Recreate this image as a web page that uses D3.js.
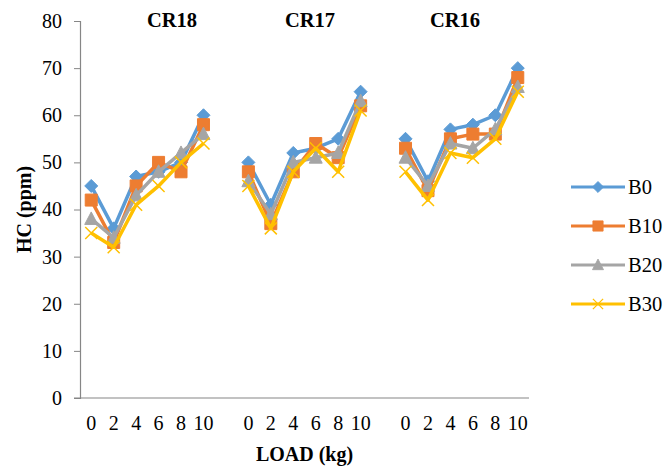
<!DOCTYPE html>
<html>
<head>
<meta charset="utf-8">
<script src="https://cdn.jsdelivr.net/npm/d3@7"></script>
<style>
  body { margin: 0; background: #fff; }
  text { font-family: "Liberation Serif", "Times New Roman", serif; }
</style>
</head>
<body>
<div id="app"></div>
<script>
// data
const groups = ['CR18', 'CR17', 'CR16'];
const loads = ['0', '2', '4', '6', '8', '10'];
const seriesNames = ['B0', 'B10', 'B20', 'B30'];
const B0 = [[45, 36, 47, 48, 50, 60], [50, 41, 52, 53, 55, 65], [55, 46, 57, 58, 60, 70]];
const B10 = [[42, 33, 45, 50, 48, 58], [48, 37, 48, 54, 51, 62], [53, 44, 55, 56, 56, 68]];
const B20 = [[38, 34, 43, 48, 52, 56], [46, 39, 50, 51, 52, 63], [51, 45, 54, 53, 57, 66]];
const B30 = [[35, 32, 41, 45, 50, 54], [45, 36, 48, 53, 48, 61], [48, 42, 52, 51, 55, 65]];
const yTicks = [0, 10, 20, 30, 40, 50, 60, 70, 80];

const seriesData = [B0, B10, B20, B30];
const colors = ['#5B9BD5', '#ED7D31', '#A5A5A5', '#FFC000'];
const shapes = ['diamond', 'square', 'triangle', 'x'];

// categories: 6 loads per group with a blank slot between groups
const cats = [];
groups.forEach((g, gi) => {
  loads.forEach(l => cats.push(`${g}|${l}`));
  if (gi < groups.length - 1) cats.push(`gap${gi}`);
});

const width = 665, height = 468;
const plot = { left: 80, right: 529, top: 21, bottom: 398 };

const svg = d3.select('#app').append('svg')
  .attr('width', width)
  .attr('height', height);

const x = d3.scaleBand().domain(cats).range([plot.left, plot.right]);
const y = d3.scaleLinear().domain([0, 80]).range([plot.bottom, plot.top]);
const cx = (c) => x(c) + x.bandwidth() / 2;

// y axis
const yAxis = svg.append('g')
  .attr('transform', `translate(${plot.left},0)`)
  .call(d3.axisLeft(y).tickValues(yTicks).tickSize(6).tickPadding(12));
yAxis.select('.domain').attr('stroke', '#868686').attr('stroke-width', 1.2);
yAxis.selectAll('.tick line').attr('stroke', '#868686');
yAxis.selectAll('.tick text').attr('font-size', 20).attr('fill', '#000')
  .attr('font-family', '"Liberation Serif", serif');

// x axis line
svg.append('line')
  .attr('x1', plot.left - 6).attr('x2', plot.right)
  .attr('y1', plot.bottom).attr('y2', plot.bottom)
  .attr('stroke', '#868686').attr('stroke-width', 1.2);

// x tick labels
svg.append('g').selectAll('text')
  .data(cats.filter(c => !c.startsWith('gap')))
  .join('text')
  .attr('x', d => cx(d))
  .attr('y', 430)
  .attr('text-anchor', 'middle')
  .attr('font-size', 20)
  .text(d => d.split('|')[1]);

// group titles (text boxes placed over each group)
const titleOffset = [92, 230, 375];
svg.append('g').selectAll('text')
  .data(groups)
  .join('text')
  .attr('x', (g, i) => plot.left + titleOffset[i])
  .attr('y', 27)
  .attr('text-anchor', 'middle')
  .attr('font-size', 20.5)
  .attr('font-weight', 'bold')
  .text(g => g);

// axis titles
svg.append('text')
  .attr('transform', `translate(31,${(plot.top + plot.bottom) / 2}) rotate(-90)`)
  .attr('text-anchor', 'middle')
  .attr('font-size', 20)
  .attr('font-weight', 'bold')
  .text('HC (ppm)');

svg.append('text')
  .attr('x', (plot.left + plot.right) / 2)
  .attr('y', 461)
  .attr('text-anchor', 'middle')
  .attr('font-size', 20)
  .attr('font-weight', 'bold')
  .text('LOAD (kg)');

const markerPath = (shape) => {
  if (shape === 'diamond') return 'M0,-6.5L6.5,0L0,6.5L-6.5,0Z';
  if (shape === 'square') return 'M-6,-6H6V6H-6Z';
  if (shape === 'triangle') return 'M0,-7L6.5,5.5L-6.5,5.5Z';
  return 'M-6,-6L6,6M-6,6L6,-6';
};

const drawMarker = (sel, si) => {
  const shape = shapes[si];
  sel.append('path')
    .attr('d', markerPath(shape))
    .attr('fill', shape === 'x' ? 'none' : colors[si])
    .attr('stroke', colors[si])
    .attr('stroke-width', shape === 'x' ? 1.5 : 1);
};

const line = d3.line()
  .x(d => cx(d.cat))
  .y(d => y(d.v));

// series
seriesData.forEach((sd, si) => {
  const g = svg.append('g');
  groups.forEach((grp, gi) => {
    const pts = loads.map((l, li) => ({ cat: `${grp}|${l}`, v: sd[gi][li] }));
    g.append('path')
      .datum(pts)
      .attr('d', line)
      .attr('fill', 'none')
      .attr('stroke', colors[si])
      .attr('stroke-width', 3.5)
      .attr('stroke-linejoin', 'round');
    g.selectAll(null)
      .data(pts)
      .join('g')
      .attr('transform', d => `translate(${cx(d.cat)},${y(d.v)})`)
      .each(function () { drawMarker(d3.select(this), si); });
  });
});

// legend
const legend = svg.append('g');
seriesNames.forEach((name, si) => {
  const ly = 187 + si * 39;
  const lg = legend.append('g');
  lg.append('line')
    .attr('x1', 571).attr('x2', 625)
    .attr('y1', ly).attr('y2', ly)
    .attr('stroke', colors[si]).attr('stroke-width', 3.2);
  lg.append('g')
    .attr('transform', `translate(598,${ly}) scale(0.85)`)
    .call(sel => drawMarker(sel, si));
  lg.append('text')
    .attr('x', 628)
    .attr('y', ly + 7)
    .attr('font-size', 20.5)
    .text(name);
});
</script>
</body>
</html>
